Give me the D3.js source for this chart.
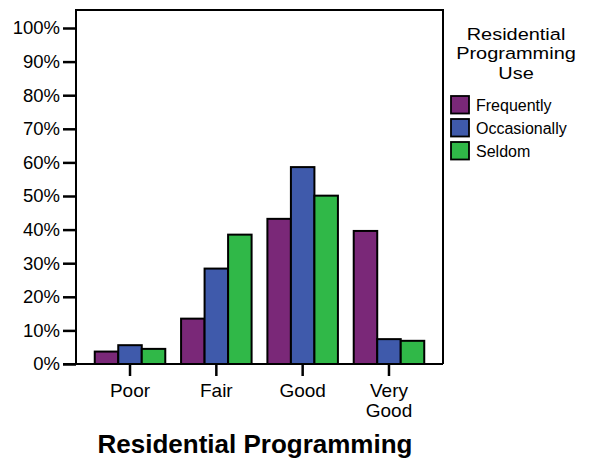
<!DOCTYPE html>
<html><head><meta charset="utf-8">
<script src="https://cdn.jsdelivr.net/npm/d3@7"></script>
<style>body{margin:0;background:#fff}svg{display:block}text{font-family:"Liberation Sans",Arial,sans-serif;fill:#000}</style>
</head><body>
<script>
const categories = ["Poor", "Fair", "Good", "Very Good"];
const seriesNames = ["Frequently", "Occasionally", "Seldom"];
const frequently = [3.7, 13.5, 43.2, 39.6];
const occasionally = [5.6, 28.4, 58.6, 7.4];
const seldom = [4.5, 38.5, 50.1, 6.9];
const yTicks = [0, 10, 20, 30, 40, 50, 60, 70, 80, 90, 100];
const legendTitle = ["Residential", "Programming", "Use"];
const colors = ["#7a2878", "#3f5aab", "#30b848"];
const series = [frequently, occasionally, seldom];

const W = 592, H = 461;
const svg = d3.select("body").append("svg").attr("width", W).attr("height", H);
const L = 76, R = 443, T = 10, B = 364;

const y = d3.scaleLinear().domain([0, 100]).range([B, 28]);
const x = d3.scaleBand().domain(categories).range([94.75, 424.25]).paddingInner(0.183).paddingOuter(0);
const xs = d3.scaleBand().domain(seriesNames).range([0, x.bandwidth()]);

// bars
categories.forEach((c, ci) => {
  series.forEach((s, si) => {
    svg.append("rect")
      .attr("x", x(c) + xs(seriesNames[si]))
      .attr("y", y(s[ci]))
      .attr("width", xs.bandwidth())
      .attr("height", B - y(s[ci]))
      .attr("fill", colors[si])
      .attr("stroke", "#000").attr("stroke-width", 2);
  });
});

// frame
svg.append("path").attr("d", `M${L},${B}V${T}H${R}V${B}`).attr("fill", "none").attr("stroke", "#000").attr("stroke-width", 2);

// y axis
const yAxis = d3.axisLeft(y).tickValues(yTicks).tickFormat(d => d + "%").tickSize(13).tickPadding(3);
const gy = svg.append("g").attr("transform", `translate(${L},0)`).call(yAxis);
gy.select(".domain").remove();
gy.selectAll(".tick line").attr("stroke", "#000").attr("stroke-width", 2.5);
gy.selectAll(".tick text").style("font-size", "18.5px").style("font-family", "Liberation Sans, Arial, sans-serif").attr("fill", "#000");

// x axis
const xAxis = d3.axisBottom(x).tickSize(12).tickFormat("");
const gx = svg.append("g").attr("transform", `translate(0,${B})`).call(xAxis);
gx.select(".domain").remove();
gx.selectAll(".tick line").attr("stroke", "#000").attr("stroke-width", 2.5);
svg.append("line").attr("x1", 63).attr("x2", R).attr("y1", B).attr("y2", B).attr("stroke", "#000").attr("stroke-width", 2);

categories.forEach(c => {
  const parts = c.split(" ");
  const cx = x(c) + x.bandwidth() / 2;
  const t = svg.append("text").attr("x", cx).attr("y", 397)
    .attr("text-anchor", "middle").style("font-size", "19px");
  parts.forEach((p, i) => t.append("tspan").attr("x", cx).attr("dy", i ? 19.5 : 0).text(p));
});

svg.append("text").attr("x", 255).attr("y", 453).attr("text-anchor", "middle")
  .style("font-size", "26px").style("font-weight", "bold").text("Residential Programming");

// legend
legendTitle.forEach((s, i) => {
  svg.append("text").attr("transform", `translate(516,${39.5 + i * 19.5}) scale(1.16,1)`)
    .attr("text-anchor", "middle").style("font-size", "17.2px").text(s);
});
seriesNames.forEach((n, i) => {
  const yy = 96 + i * 23;
  svg.append("rect").attr("x", 451).attr("y", yy).attr("width", 18).attr("height", 17.5)
    .attr("fill", colors[i]).attr("stroke", "#000").attr("stroke-width", 1.8);
  svg.append("text").attr("x", 476).attr("y", yy + 15).style("font-size", "16px").text(n);
});
</script>
</body></html>
